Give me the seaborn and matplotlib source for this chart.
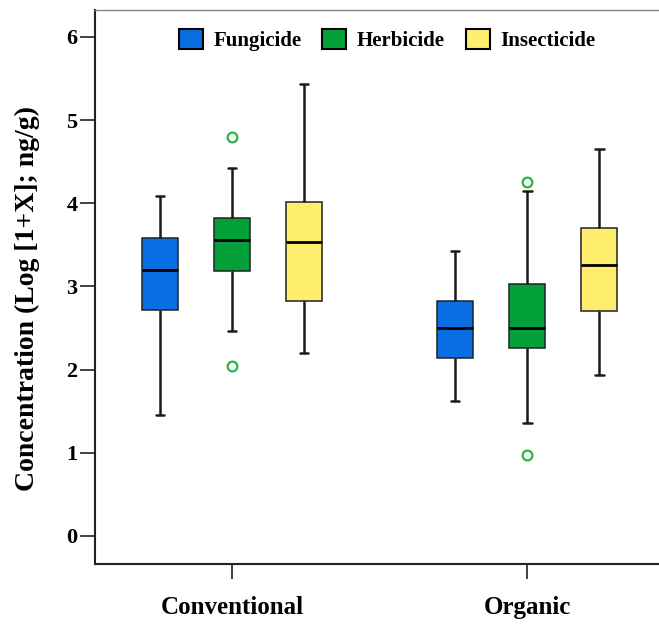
import numpy as np
import pandas as pd
import matplotlib
matplotlib.use("Agg")
import matplotlib.pyplot as plt
import seaborn as sns

# ---- values (log[1+X], ng/g) ----
systems = ["Conventional", "Organic"]
classes = ["Fungicide", "Herbicide", "Insecticide"]

# box summary per (system, class): lower whisker, Q1, median, Q3, upper whisker
conv_lo  = [1.45, 2.46, 2.20]
conv_q1  = [2.72, 3.19, 2.82]
conv_med = [3.20, 3.56, 3.53]
conv_q3  = [3.58, 3.82, 4.02]
conv_hi  = [4.09, 4.43, 5.43]
conv_out_lo = [None, 2.04, None]
conv_out_hi = [None, 4.80, None]

org_lo  = [1.62, 1.36, 1.94]
org_q1  = [2.14, 2.26, 2.70]
org_med = [2.50, 2.50, 3.26]
org_q3  = [2.83, 3.03, 3.70]
org_hi  = [3.43, 4.15, 4.65]
org_out_lo = [None, 0.97, None]
org_out_hi = [None, 4.25, None]

palette = {"Fungicide": "#0a6fe3", "Herbicide": "#03a03a", "Insecticide": "#ffee6e"}

# build a small sample per box that reproduces the summary above
rows = []
def add(system, lo, q1, med, q3, hi, olo, ohi):
    for i, c in enumerate(classes):
        a = olo[i] if olo[i] is not None else lo[i]
        b = ohi[i] if ohi[i] is not None else hi[i]
        sample = [a, lo[i], q1[i], med[i], med[i], med[i], q3[i], hi[i], b]
        for v in sample:
            rows.append({"system": system, "class": c, "value": v})

add("Conventional", conv_lo, conv_q1, conv_med, conv_q3, conv_hi, conv_out_lo, conv_out_hi)
add("Organic", org_lo, org_q1, org_med, org_q3, org_hi, org_out_lo, org_out_hi)
df = pd.DataFrame(rows)

sns.set_style("white")
plt.rcParams["font.family"] = ["Liberation Serif", "DejaVu Serif"]
plt.rcParams["font.weight"] = "bold"
for k in ["text.color", "axes.labelcolor", "xtick.color", "ytick.color"]:
    plt.rcParams[k] = "black"

fig = plt.figure(figsize=(6.59, 6.24), dpi=100)
ax = fig.add_axes([95 / 659, 60 / 624, 564 / 659, 554 / 624])

sns.boxplot(
    data=df, x="system", y="value", hue="class",
    order=systems, hue_order=classes, palette=palette, saturation=1,
    width=0.732, gap=0.5, whis=1.5,
    linecolor="#222222", linewidth=1.1,
    medianprops=dict(color="black", linewidth=2.0),
    whiskerprops=dict(color="#1a1a1a", linewidth=1.8),
    capprops=dict(color="#1a1a1a", linewidth=1.8),
    flierprops=dict(marker="o", markerfacecolor="none", markeredgecolor="#2db34a",
                    markersize=7, markeredgewidth=1.6),
    capwidths=0.03,
    ax=ax,
)

ax.set_xlim(-0.464, 1.447)
ax.set_ylim(-0.337, 6.324)
ax.set_yticks([0, 1, 2, 3, 4, 5, 6])
ax.set_xlabel("")
ax.set_ylabel("Concentration (Log [1+X]; ng/g)", fontsize=20, fontweight="bold", color="black")
ax.yaxis.set_label_coords(-0.0975, 0.48)

ax.tick_params(axis="y", direction="out", length=11, width=1.2, pad=1.5,
               labelsize=16, left=True, color="#222222", labelcolor="black")
ax.tick_params(axis="x", direction="out", length=11, width=1.2, pad=12,
               labelsize=18, bottom=True, color="#222222", labelcolor="black")
for lab in ax.get_xticklabels() + ax.get_yticklabels():
    lab.set_fontweight("bold")

for s in ["left", "bottom"]:
    ax.spines[s].set_color("#222222")
    ax.spines[s].set_linewidth(1.5)
ax.spines["top"].set_color("#888888")
ax.spines["top"].set_linewidth(1.0)
ax.spines["right"].set_visible(False)

handles, labels = ax.get_legend_handles_labels()
for h in handles:
    h.set_edgecolor("black")
    h.set_linewidth(1.5)
ax.legend(handles, labels, loc="center", bbox_to_anchor=(0.518, 0.946), ncol=3,
          frameon=False, handlelength=1.15, handleheight=1.15, handletextpad=0.5,
          columnspacing=1.0, prop=dict(size=15, weight="bold"))

fig.savefig("out.png", dpi=100)
